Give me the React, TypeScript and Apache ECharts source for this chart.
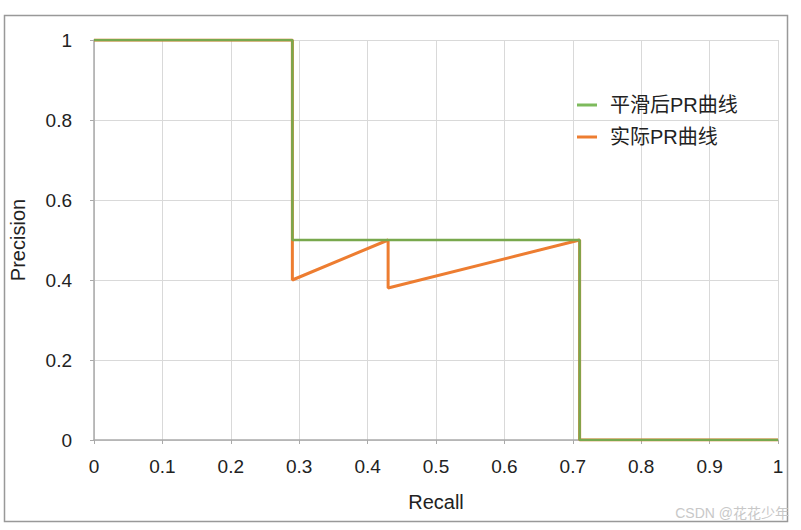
import React, { useEffect, useRef } from "react";
import * as echarts from "echarts";

const smoothRecall = [0, 0.29, 0.29, 0.71, 0.71, 1];
const smoothPrecision = [1, 1, 0.5, 0.5, 0, 0];
const actualRecall = [0, 0.29, 0.29, 0.43, 0.43, 0.71, 0.71, 1];
const actualPrecision = [1, 1, 0.4, 0.5, 0.38, 0.5, 0, 0];
const seriesNames = ["平滑后PR曲线", "实际PR曲线"];

const FONT = "'Liberation Sans', 'Noto Sans CJK SC', sans-serif";

export default function App() {
  const ref = useRef<HTMLDivElement>(null);
  useEffect(() => {
    document.body.style.margin = "0";
    const chart = echarts.init(ref.current!, null, { renderer: "svg" });
    const zip = (xs: number[], ys: number[]) => xs.map((x, i) => [x, ys[i]]);
    chart.setOption({
      animation: false,
      backgroundColor: "#fff",
      textStyle: { fontFamily: FONT },
      grid: { left: 94, right: 23, top: 40, bottom: 90 },
      legend: {
        orient: "vertical",
        left: 572,
        top: 90,
        itemGap: 12,
        itemWidth: 20,
        itemHeight: 3,
        data: [
          { name: seriesNames[0], icon: "rect", itemStyle: { color: "#7dba5c" } },
          { name: seriesNames[1], icon: "rect", itemStyle: { color: "#ed7d31" } },
        ],
        textStyle: { fontSize: 20, color: "#222", fontFamily: FONT, padding: [0, 0, 0, 8] },
      },
      xAxis: {
        type: "value",
        min: 0,
        max: 1,
        interval: 0.1,
        name: "Recall",
        nameLocation: "middle",
        nameGap: 52,
        nameTextStyle: { fontSize: 20, color: "#222" },
        axisLine: { lineStyle: { color: "#aaa", width: 1.5 } },
        axisTick: { show: true, length: 4, lineStyle: { color: "#aaa" } },
        axisLabel: { fontSize: 19, color: "#222", margin: 17, formatter: (v: number) => String(+v.toFixed(1)) },
        splitLine: { show: true, lineStyle: { color: "#d9d9d9" } },
      },
      yAxis: {
        type: "value",
        min: 0,
        max: 1,
        interval: 0.2,
        name: "Precision",
        nameLocation: "middle",
        nameGap: 66,
        nameTextStyle: { fontSize: 20, color: "#222" },
        axisLine: { show: true, lineStyle: { color: "#aaa", width: 1.5 } },
        axisTick: { show: true, length: 4, lineStyle: { color: "#aaa" } },
        axisLabel: { fontSize: 19, color: "#222", margin: 22, formatter: (v: number) => String(+v.toFixed(1)) },
        splitLine: { show: true, lineStyle: { color: "#d9d9d9" } },
      },
      series: [
        {
          name: seriesNames[1],
          type: "line",
          data: zip(actualRecall, actualPrecision),
          showSymbol: false,
          lineStyle: { color: "#ed7d31", width: 3 },
          itemStyle: { color: "#ed7d31" },
          z: 2,
        },
        {
          name: seriesNames[0],
          type: "line",
          data: zip(smoothRecall, smoothPrecision),
          showSymbol: false,
          lineStyle: { color: "#78a84d", width: 2.5 },
          itemStyle: { color: "#7dba5c" },
          z: 3,
        },
      ],
      graphic: [
        {
          type: "rect",
          shape: { x: 4.5, y: 15.5, width: 783, height: 506 },
          style: { fill: "none", stroke: "#999", lineWidth: 1.5 },
          silent: true,
        },
        {
          type: "text",
          right: 12,
          top: 506,
          style: { text: "CSDN @花花少年", fill: "#c8c8c8", fontSize: 14, fontFamily: FONT },
          silent: true,
        },
      ],
    });
    return () => chart.dispose();
  }, []);
  return <div ref={ref} style={{ width: 801, height: 530 }} />;
}
